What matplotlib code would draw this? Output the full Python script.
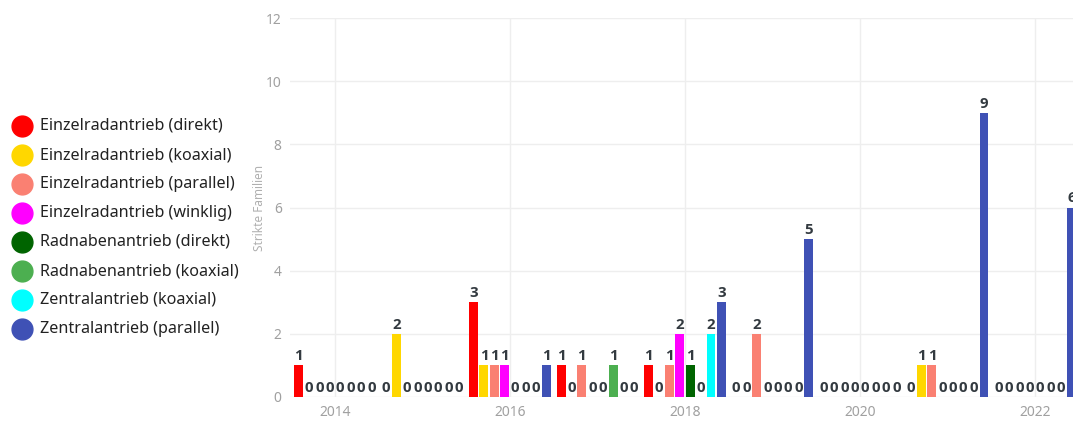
import numpy as np
import matplotlib
matplotlib.use("Agg")
import matplotlib.pyplot as plt
from matplotlib.lines import Line2D

# ==========================================================
# DATA
# ==========================================================
years = [2014, 2015, 2016, 2017, 2018, 2019, 2020, 2021, 2022]

series_names = [
    "Einzelradantrieb (direkt)",
    "Einzelradantrieb (koaxial)",
    "Einzelradantrieb (parallel)",
    "Einzelradantrieb (winklig)",
    "Radnabenantrieb (direkt)",
    "Radnabenantrieb (koaxial)",
    "Zentralantrieb (koaxial)",
    "Zentralantrieb (parallel)",
]
series_colors = ["#FF0000", "#FFD700", "#FA8072", "#FF00FF",
                 "#006400", "#4CAF50", "#00FFFF", "#3F51B5"]

ed_direkt = [1, 0, 3, 1, 1, 0, 0, 0, 0]
ed_koaxial = [0, 2, 1, 0, 0, 0, 0, 1, 0]
ed_parallel = [0, 0, 1, 1, 1, 2, 0, 1, 0]
ed_winklig = [0, 0, 1, 0, 2, 0, 0, 0, 0]
rn_direkt = [0, 0, 0, 0, 1, 0, 0, 0, 0]
rn_koaxial = [0, 0, 0, 1, 0, 0, 0, 0, 0]
z_koaxial = [0, 0, 0, 0, 2, 0, 0, 0, 0]
z_parallel = [0, 0, 1, 0, 3, 5, 0, 9, 6]

series_values = [ed_direkt, ed_koaxial, ed_parallel, ed_winklig,
                 rn_direkt, rn_koaxial, z_koaxial, z_parallel]

# ==========================================================
# FIGURE
# ==========================================================
W, H, dpi = 1073, 421, 100
fig = plt.figure(figsize=(W / dpi, H / dpi), dpi=dpi)
ax = fig.add_axes([290 / W, 24 / H, (W - 290) / W, 379 / H])

slot = 0.119
bar_w = 0.102
x = np.array(years, dtype=float)

for i, (vals, col) in enumerate(zip(series_values, series_colors)):
    xs = x + (i - 3.5) * slot
    ax.bar(xs, vals, width=bar_w, color=col, zorder=3)
    for xi, v in zip(xs, vals):
        ax.annotate(str(v), (xi, v), xytext=(0, 1.5), textcoords="offset points",
                    ha="center", va="bottom", fontsize=10.8, fontweight="bold",
                    color="#333a40", family="Open Sans", zorder=4,
                    annotation_clip=False)

ax.set_xlim(2014 - 45 / 87.6, 2022 + 38 / 87.6)
ax.set_ylim(0, 12)
ax.set_xticks([2014, 2016, 2018, 2020, 2022])
ax.set_yticks([0, 2, 4, 6, 8, 10, 12])
ax.grid(True, color="#eeeeee", linewidth=1, zorder=0)
for s in ax.spines.values():
    s.set_visible(False)
ax.tick_params(length=0, labelsize=10, labelcolor="#a0a0a0", pad=6)
for lbl in ax.get_xticklabels() + ax.get_yticklabels():
    lbl.set_family("Noto Sans")
ax.set_ylabel("Strikte Familien", fontsize=8.5, color="#b0b0b0",
              family="Noto Sans", labelpad=0)

# legend drawn by hand on the left
for i, (name, col) in enumerate(zip(series_names, series_colors)):
    yy = 1 - (126 + 29 * i) / H
    fig.add_artist(Line2D([22 / W], [yy], marker="o", markersize=15,
                          color=col, linestyle="none", transform=fig.transFigure))
    fig.text(40 / W, yy, name, fontsize=11.6, color="#222222",
             family="Noto Sans", va="center", ha="left")

fig.savefig("out.png", dpi=dpi)
